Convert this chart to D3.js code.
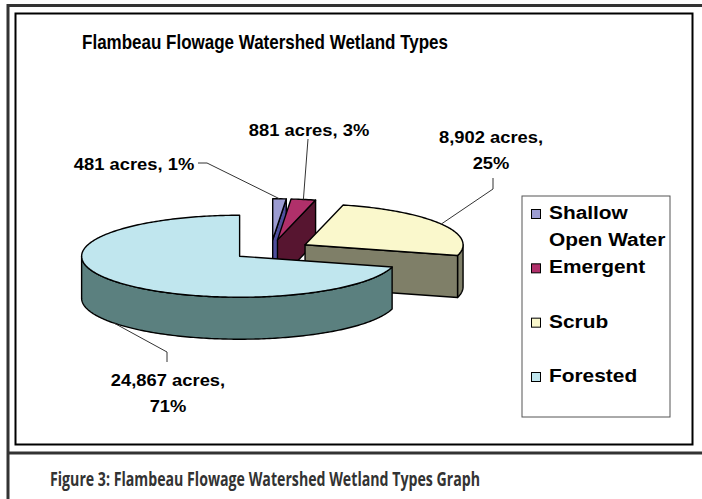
<!DOCTYPE html>
<html>
<head>
<meta charset="utf-8">
<script src="https://cdn.jsdelivr.net/npm/d3@7"></script>
<style>
  body { margin: 0; background: #fff; }
  svg { display: block; }
</style>
</head>
<body>
<div id="chart"></div>
<script>
// data
const categories = ["Shallow Open Water", "Emergent", "Scrub", "Forested"];
const acres = [481, 881, 8902, 24867];
const legendLines = [["Shallow", "Open Water"], ["Emergent"], ["Scrub"], ["Forested"]];
const topColors = ["#9c9cd2", "#b0306a", "#faf8cc", "#c0e6ee"];
const sideColors = ["#4f4f9c", "#571530", "#7f7f68", "#5b807f"];

const chartTitle = "Flambeau Flowage Watershed Wetland Types";
const caption = "Figure 3: Flambeau Flowage Watershed Wetland Types Graph";

const width = 702, height = 499;
const font = "'Liberation Sans', Arial, sans-serif";

const svg = d3.select("#chart").append("svg")
  .attr("width", width)
  .attr("height", height);

// page frame
const frame = svg.append("g").attr("fill", "none");
frame.append("path")
  .attr("d", "M8,499V5.5H702")
  .attr("stroke", "#333").attr("stroke-width", 3);
frame.append("line")
  .attr("x1", 8).attr("x2", 702).attr("y1", 453).attr("y2", 453)
  .attr("stroke", "#333").attr("stroke-width", 3);
frame.append("rect")
  .attr("x", 15.5).attr("y", 13.5).attr("width", 677).attr("height", 431)
  .attr("stroke", "#000").attr("stroke-width", 2);

// stretched text helper (the original fonts are scaled non-uniformly)
function stretchText(parent, x, y, str, size, sx, anchor) {
  const g = parent.append("g").attr("transform", `translate(${x},${y}) scale(${sx},1)`);
  g.append("text")
    .attr("text-anchor", anchor || "middle")
    .attr("font-family", font)
    .attr("font-weight", "bold")
    .attr("font-size", size)
    .attr("fill", "#000")
    .text(str);
  return g;
}

stretchText(svg, 265, 49, chartTitle, 20, 0.85);

// pie geometry
const cx = 271, cy = 250, rx = 158, ry = 41, depth = 42, explode = 0.25;
const total = d3.sum(acres);

const px = d3.scaleLinear().domain([-1, 1]).range([cx - rx, cx + rx]);
const py = d3.scaleLinear().domain([-1, 1]).range([cy - ry, cy + ry]);

const pie = d3.pie().sort(null).value(d => d);
const arcs = pie(acres).map((a, i) => {
  const mid = (a.startAngle + a.endAngle) / 2;
  return Object.assign(a, {
    i: i,
    mid: mid,
    ox: explode * Math.sin(mid),
    oy: -explode * Math.cos(mid)
  });
});

function pt(a, ang, r, dz) {
  return [px(a.ox + r * Math.sin(ang)), py(a.oy - r * Math.cos(ang)) + (dz || 0)];
}

function rim(a, s, e, dz) {
  const n = Math.max(2, Math.ceil((e - s) / (Math.PI / 180)));
  return d3.range(n + 1).map(k => pt(a, s + (e - s) * k / n, 1, dz));
}

const poly = d3.line().curve(d3.curveLinearClosed);

// walls drawn back to front, then the top faces
const order = arcs.slice().sort((a, b) => -Math.cos(a.mid) + Math.cos(b.mid));
const walls = svg.append("g")
  .attr("stroke", "#000").attr("stroke-width", 1.4).attr("stroke-linejoin", "round");

order.forEach(a => {
  // outer curved wall (front half only)
  const s = Math.max(a.startAngle, Math.PI / 2);
  const e = Math.min(a.endAngle, 3 * Math.PI / 2);
  if (e > s) {
    const pts = rim(a, s, e, 0).concat(rim(a, s, e, depth).reverse());
    walls.append("path").attr("d", poly(pts)).attr("fill", sideColors[a.i]);
  }
  // radial wall at the end angle faces the viewer when sin(end) > 0
  if (Math.sin(a.endAngle) > 0.01) {
    const pts = [pt(a, 0, 0), pt(a, a.endAngle, 1), pt(a, a.endAngle, 1, depth), pt(a, 0, 0, depth)];
    walls.append("path").attr("d", poly(pts)).attr("fill", sideColors[a.i]);
  }
  if (Math.sin(a.startAngle) < -0.01) {
    const pts = [pt(a, 0, 0), pt(a, a.startAngle, 1), pt(a, a.startAngle, 1, depth), pt(a, 0, 0, depth)];
    walls.append("path").attr("d", poly(pts)).attr("fill", sideColors[a.i]);
  }
});

const tops = svg.append("g")
  .attr("stroke", "#000").attr("stroke-width", 1.4).attr("stroke-linejoin", "round");
order.forEach(a => {
  const pts = [pt(a, 0, 0)].concat(rim(a, a.startAngle, a.endAngle, 0));
  tops.append("path").attr("d", poly(pts)).attr("fill", topColors[a.i]);
});

// data labels with leader lines
const labelLayout = [
  { x: 134, y: 170, wrap: false, elbow: [[207, 163], [198, 163]] },
  { x: 309, y: 136, wrap: false, elbow: [[308, 139]] },
  { x: 491, y: 143, wrap: true, elbow: [[493, 189], [493, 178]] },
  { x: 168, y: 386, wrap: true, elbow: [[167, 352], [167, 362]] }
];
const fmtAcres = d3.format(",");
const fmtPct = d3.format(".0%");

const leaders = svg.append("g").attr("fill", "none").attr("stroke", "#333").attr("stroke-width", 1);
const labels = svg.append("g");

arcs.forEach(a => {
  const lay = labelLayout[a.i];
  const anchor = pt(a, a.mid, 1, Math.cos(a.mid) < 0 ? depth : 0);
  leaders.append("path").attr("d", d3.line()([anchor].concat(lay.elbow)));

  const head = fmtAcres(acres[a.i]) + " acres,";
  const pct = fmtPct(acres[a.i] / total);
  const lines = lay.wrap ? [head, pct] : [head + " " + pct];
  lines.forEach((ln, k) => stretchText(labels, lay.x, lay.y + k * 26, ln, 17, 1.08));
});

// legend
const legend = svg.append("g");
legend.append("rect")
  .attr("x", 522).attr("y", 196).attr("width", 148).attr("height", 221)
  .attr("fill", "#fff").attr("stroke", "#555").attr("stroke-width", 1);

const ly = d3.scaleLinear().domain([0, categories.length - 1]).range([219, 382]);
categories.forEach((c, i) => {
  const y = ly(i);
  legend.append("rect")
    .attr("x", 531.5).attr("y", y - 9.5).attr("width", 9).attr("height", 9)
    .attr("fill", topColors[i]).attr("stroke", "#000").attr("stroke-width", 1);
  legendLines[i].forEach((ln, k) => stretchText(legend, 549, y + k * 27, ln, 18, 1.16, "start"));
});

// figure caption
svg.append("text")
  .attr("x", 265).attr("y", 486)
  .attr("text-anchor", "middle")
  .attr("font-family", "'Open Sans', 'Noto Sans', sans-serif")
  .attr("font-weight", 700)
  .attr("font-size", 19)
  .attr("fill", "#333")
  .attr("textLength", 430)
  .attr("lengthAdjust", "spacingAndGlyphs")
  .text(caption);
</script>
</body>
</html>
